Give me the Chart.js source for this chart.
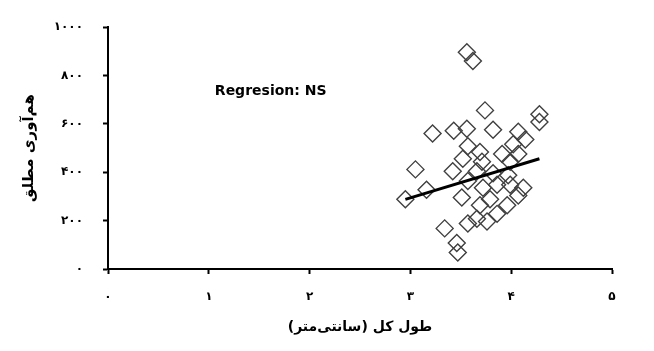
<!DOCTYPE html>
<html>
<head>
<meta charset="utf-8">
<script src="https://cdn.jsdelivr.net/npm/chart.js@4"></script>
<style>
html,body{margin:0;padding:0;background:#fff;}
#wrap{width:654px;height:351px;position:relative;}
</style>
</head>
<body>
<div id="wrap"><canvas id="c" width="654" height="351"></canvas></div>
<script>
// Total length (cm)
const lengthCm = [3.56,3.62,3.74,4.28,4.28,3.22,3.43,3.56,3.82,4.07,4.14,3.57,3.69,3.52,3.71,3.91,4.07,3.99,4.02,3.05,3.16,2.95,3.42,3.66,3.82,3.97,3.57,3.86,3.99,4.12,3.72,3.51,3.69,3.96,3.79,4.07,3.34,3.57,3.76,3.86,3.66,3.46,3.47];
// Absolute fecundity
const fecundity = [896,860,656,640,608,560,572,580,576,568,536,508,484,456,444,476,476,444,516,412,328,288,404,404,396,388,364,348,348,336,336,296,264,264,288,304,168,188,196,228,208,108,68];
// Regression line end points
const regX = [2.95, 4.28];
const regY = [288, 456];
const xTicks = [0,1,2,3,4,5];
const yTicks = [0,200,400,600,800,1000];
const xTitle = 'طول کل (سانتی‌متر)';
const yTitle = 'هم‌آوری مطلق';
const note = 'Regresion: NS';
const notePos = [1.06, 736];

const fa = n => String(n).replace(/[0-9]/g, d => '۰۱۲۳۴۵۶۷۸۹'[d]);

const pts = lengthCm.map((x,i)=>({x, y: fecundity[i]}));
const reg = regX.map((x,i)=>({x, y: regY[i]}));

const notePlugin = {
  id:'note',
  afterDatasetsDraw(chart){
    const {ctx, scales:{x, y}} = chart;
    ctx.save();
    ctx.font = 'bold 14px "DejaVu Sans", sans-serif';
    ctx.fillStyle = '#000';
    ctx.textAlign = 'left';
    ctx.textBaseline = 'middle';
    ctx.fillText(note, x.getPixelForValue(notePos[0]), y.getPixelForValue(notePos[1]));
    ctx.restore();
  }
};

const tickFont = {family:'"DejaVu Sans", sans-serif', size:12, weight:'bold'};
const titleFont = {family:'"DejaVu Sans", sans-serif', size:14, weight:'bold'};
new Chart(document.getElementById('c'), {
  type:'scatter',
  data:{datasets:[
    {data:pts, pointStyle:'rectRot', pointRadius:8.5, pointBorderColor:'#404040', pointBackgroundColor:'rgba(0,0,0,0)', pointBorderWidth:1.4, showLine:false, order:2},
    {data:reg, showLine:true, borderColor:'#000', borderWidth:3, pointRadius:0, order:1}
  ]},
  options:{
    responsive:false, animation:false,
    layout:{padding:{left:0, right:42, top:19, bottom:0}},
    plugins:{legend:{display:false}, tooltip:{enabled:false}},
    scales:{
      x:{type:'linear', min:0, max:5,
         afterBuildTicks(s){ s.ticks = xTicks.map(v=>({value:v})); },
         afterFit(s){ s.height = 82; },
         border:{color:'#000', width:2},
         grid:{drawOnChartArea:false, drawTicks:true, tickLength:5, tickColor:'#000', tickWidth:2},
         ticks:{padding:16, color:'#000', font:tickFont, maxRotation:0, callback:v=>fa(v)},
         title:{display:true, text:xTitle, color:'#000', font:titleFont, padding:{top:0,bottom:15}}
      },
      y:{type:'linear', min:0, max:1000,
         afterBuildTicks(s){ s.ticks = yTicks.map(v=>({value:v})); },
         afterFit(s){ s.width = 108; },
         border:{color:'#000', width:2},
         grid:{drawOnChartArea:false, drawTicks:true, tickLength:5, tickColor:'#000', tickWidth:2},
         ticks:{padding:20, color:'#000', font:tickFont, callback:v=>fa(v)},
         title:{display:true, text:yTitle, color:'#000', font:{family:'"DejaVu Sans", sans-serif', size:15, weight:'bold'}, padding:{top:20,bottom:0}}
      }
    }
  },
  plugins:[notePlugin]
});
</script>
</body>
</html>
